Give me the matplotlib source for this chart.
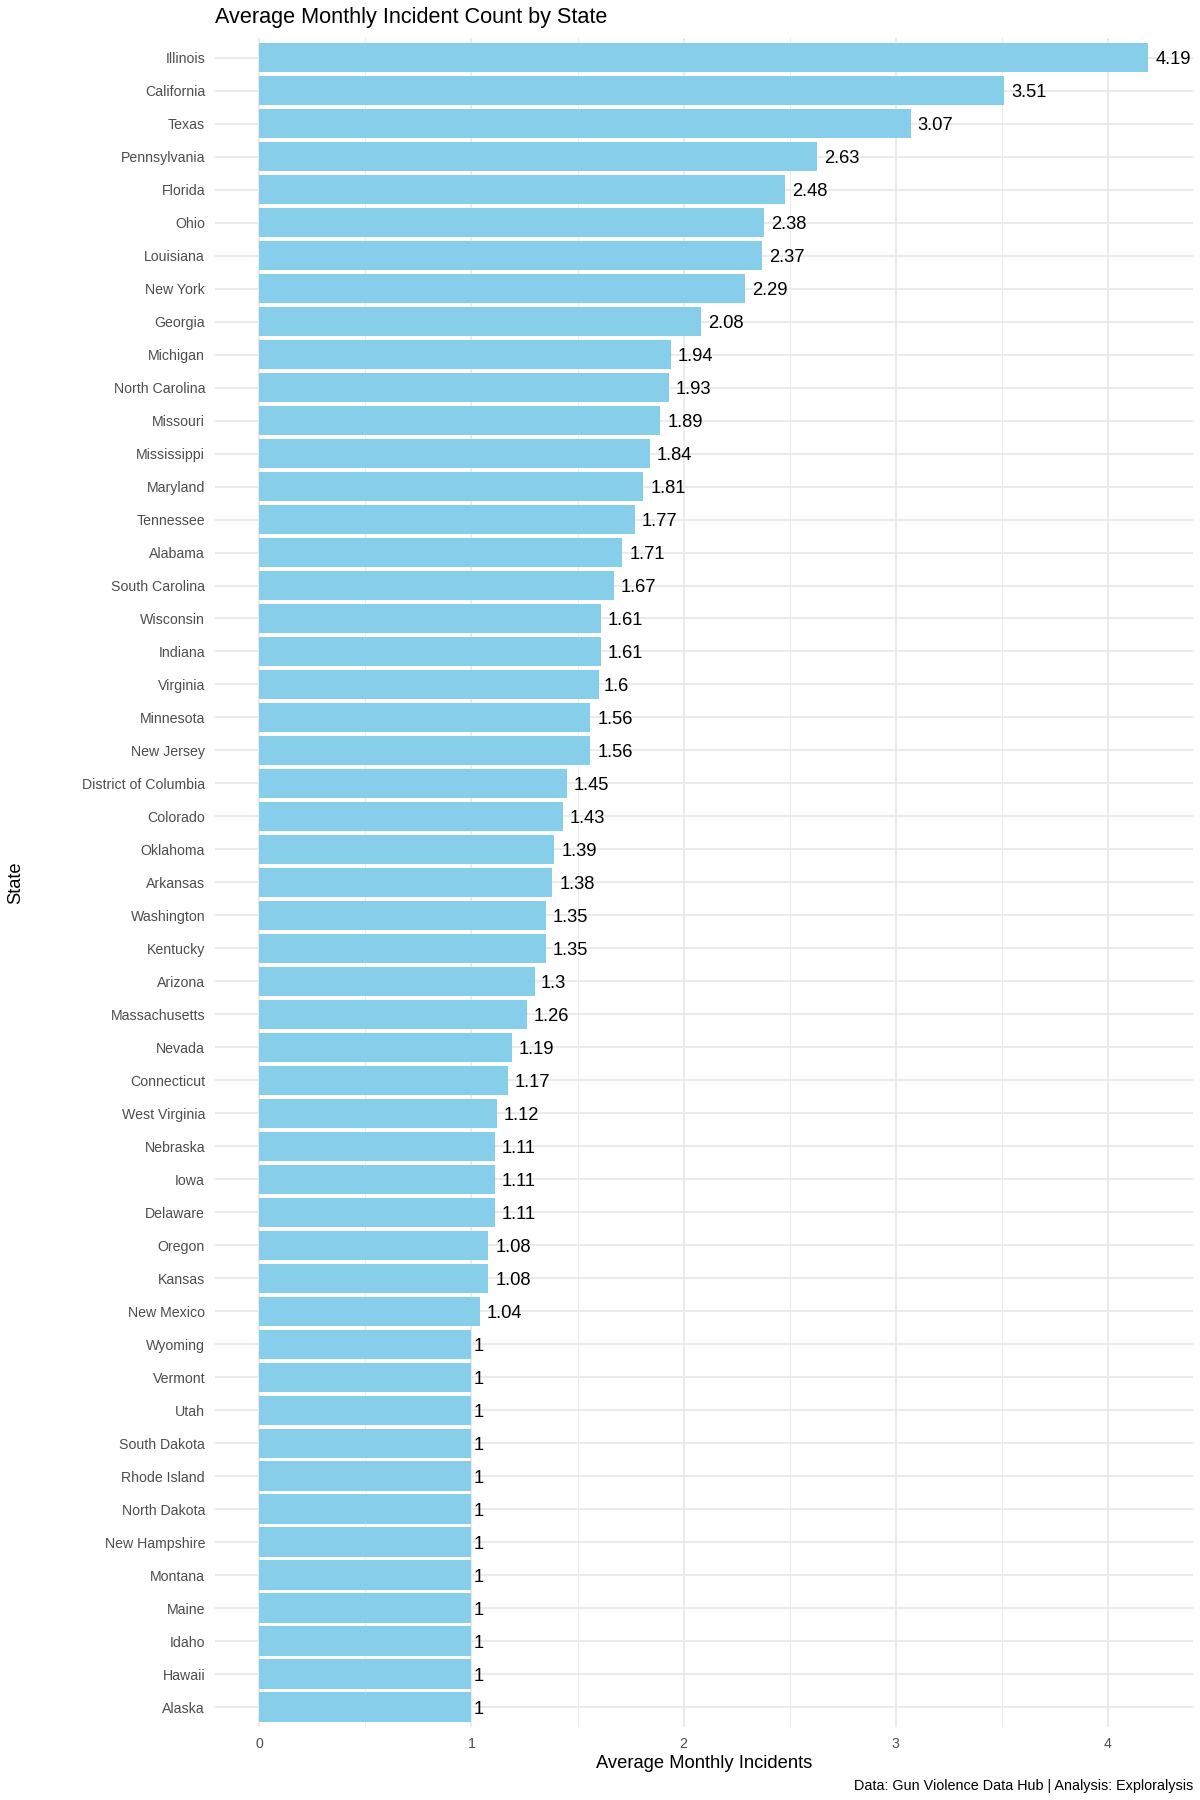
import matplotlib
matplotlib.use("Agg")
import matplotlib.pyplot as plt
import matplotlib.transforms as mtransforms

states = ["Illinois", "California", "Texas", "Pennsylvania", "Florida", "Ohio", "Louisiana",
          "New York", "Georgia", "Michigan", "North Carolina", "Missouri", "Mississippi",
          "Maryland", "Tennessee", "Alabama", "South Carolina", "Wisconsin", "Indiana",
          "Virginia", "Minnesota", "New Jersey", "District of Columbia", "Colorado",
          "Oklahoma", "Arkansas", "Washington", "Kentucky", "Arizona", "Massachusetts",
          "Nevada", "Connecticut", "West Virginia", "Nebraska", "Iowa", "Delaware",
          "Oregon", "Kansas", "New Mexico", "Wyoming", "Vermont", "Utah", "South Dakota",
          "Rhode Island", "North Dakota", "New Hampshire", "Montana", "Maine", "Idaho",
          "Hawaii", "Alaska"]
values = [4.19, 3.51, 3.07, 2.63, 2.48, 2.38, 2.37, 2.29, 2.08, 1.94, 1.93, 1.89, 1.84,
          1.81, 1.77, 1.71, 1.67, 1.61, 1.61, 1.6, 1.56, 1.56, 1.45, 1.43, 1.39, 1.38,
          1.35, 1.35, 1.3, 1.26, 1.19, 1.17, 1.12, 1.11, 1.11, 1.11, 1.08, 1.08, 1.04,
          1, 1, 1, 1, 1, 1, 1, 1, 1, 1, 1, 1]
labels = ["4.19", "3.51", "3.07", "2.63", "2.48", "2.38", "2.37", "2.29", "2.08", "1.94",
          "1.93", "1.89", "1.84", "1.81", "1.77", "1.71", "1.67", "1.61", "1.61", "1.6",
          "1.56", "1.56", "1.45", "1.43", "1.39", "1.38", "1.35", "1.35", "1.3", "1.26",
          "1.19", "1.17", "1.12", "1.11", "1.11", "1.11", "1.08", "1.08", "1.04",
          "1", "1", "1", "1", "1", "1", "1", "1", "1", "1", "1", "1"]
x_ticks = [0, 1, 2, 3, 4]
x_minor = [0.5, 1.5, 2.5, 3.5]

plt.rcParams['font.family'] = ['Liberation Sans', 'DejaVu Sans']

fig = plt.figure(figsize=(12, 18), dpi=100)
ax_left, ax_right, ax_bottom, ax_top = 0.179, 0.994, 0.0405, 0.979
ax = fig.add_axes([ax_left, ax_bottom, ax_right - ax_left, ax_top - ax_bottom])

n = len(states)
ypos = list(range(n - 1, -1, -1))
grid_c = "#EBEBEB"
for y in ypos:
    ax.axhline(y, color=grid_c, lw=1.4, zorder=0)
for x in x_ticks:
    ax.axvline(x, color=grid_c, lw=1.4, zorder=0)
for x in x_minor:
    ax.axvline(x, color=grid_c, lw=0.7, zorder=0)

ax.barh(ypos, values, height=0.9, color="#87CEEB", zorder=2)

xmax = max(values)
ax.set_xlim(-0.05 * xmax, xmax * 1.05)
ax.set_ylim(-0.6, n - 1 + 0.6)

ax.set_xticks(x_ticks)
ax.set_xticklabels([str(t) for t in x_ticks])
ax.set_yticks(ypos)
ax.set_yticklabels(states)
ax.tick_params(axis='both', length=0, labelsize=10.2, labelcolor="#4D4D4D")
ax.tick_params(axis='y', pad=7)
ax.tick_params(axis='x', pad=7)
for s in ax.spines.values():
    s.set_visible(False)

ax.set_xlabel("Average Monthly Incidents", fontsize=13.2, color="black", labelpad=3)
fig.text(0.0134, (ax_bottom + ax_top) / 2, "State", rotation=90, fontsize=13.2,
         ha='center', va='center', color='black')

texts = []
for y, v, lab in zip(ypos, values, labels):
    t = ax.text(v, y, lab, ha='left', va='center_baseline', fontsize=13.2, color='black', zorder=3)
    texts.append(t)

fig.canvas.draw()
renderer = fig.canvas.get_renderer()
for t in texts:
    w = t.get_window_extent(renderer).width
    t.set_transform(mtransforms.offset_copy(ax.transData, fig=fig, x=0.2 * w * 72 / fig.dpi, y=0, units='points'))

fig.text(ax_left, 0.9905, "Average Monthly Incident Count by State", fontsize=15.6,
         ha='left', va='center', color='black')
fig.text(ax_right, 0.0077, "Data: Gun Violence Data Hub | Analysis: Exploralysis", fontsize=10.4,
         ha='right', va='center', color='black')

fig.savefig("out.png", dpi=100, facecolor="white")
